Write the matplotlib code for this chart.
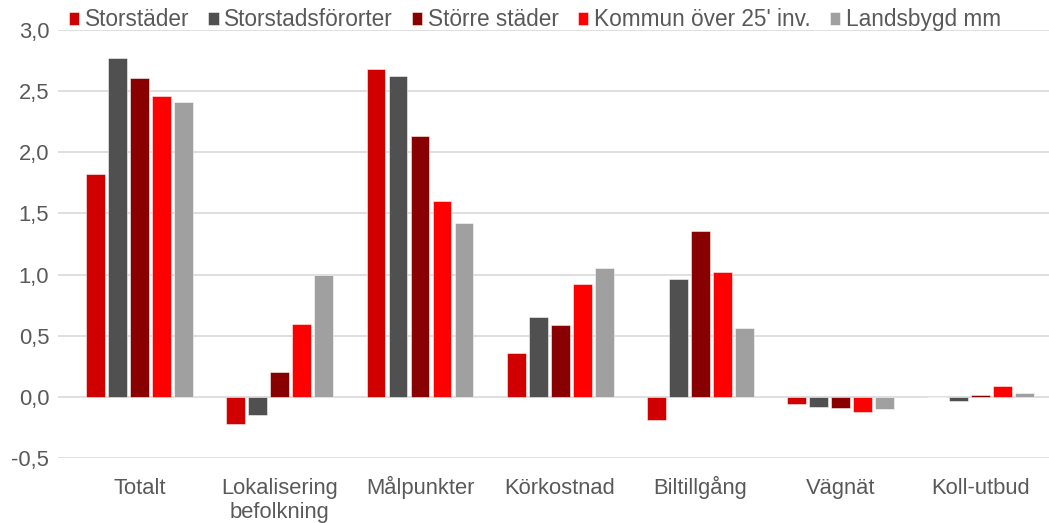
import matplotlib
matplotlib.use("Agg")
import matplotlib.pyplot as plt
import numpy as np
from matplotlib.ticker import FuncFormatter

plt.rcParams['font.family'] = ['Liberation Sans', 'DejaVu Sans']

categories = ["Totalt", "Lokalisering\nbefolkning", "Målpunkter", "Körkostnad",
              "Biltillgång", "Vägnät", "Koll-utbud"]
series_names = ["Storstäder", "Storstadsförorter", "Större städer",
                "Kommun över 25' inv.", "Landsbygd mm"]
storstader = [1.82, -0.22, 2.68, 0.36, -0.19, -0.06, 0.0]
forort = [2.77, -0.15, 2.62, 0.65, 0.96, -0.08, -0.03]
storre = [2.61, 0.20, 2.13, 0.59, 1.36, -0.09, 0.02]
kommun = [2.46, 0.60, 1.60, 0.92, 1.02, -0.12, 0.09]
landsbygd = [2.41, 1.00, 1.42, 1.05, 0.56, -0.10, 0.03]
colors = ["#D00000", "#505050", "#880000", "#FF0000", "#A0A0A0"]

data = [storstader, forort, storre, kommun, landsbygd]

fig = plt.figure(figsize=(10.49, 5.23), dpi=100)
ax = fig.add_axes([0.055, 0.124, 0.945, 0.819])

x = np.arange(len(categories))
step = 0.157
width = 0.135
for i, (vals, c, name) in enumerate(zip(data, colors, series_names)):
    ax.bar(x + (i - 2) * step, vals, width, color=c, label=name,
           edgecolor=(1, 1, 1, 0.6), linewidth=0.6, zorder=3)

ax.set_ylim(-0.5, 3.0)
ax.set_yticks(np.arange(-0.5, 3.01, 0.5))
ax.yaxis.set_major_formatter(FuncFormatter(lambda v, p: f"{v:.1f}".replace(".", ",")))
ax.set_xlim(-0.586, 6.49)
ax.set_xticks(x)
# pad single-line labels with an empty second line so all first lines share a baseline
ax.set_xticklabels([c if "\n" in c else c + "\n " for c in categories])
for lbl in ax.get_xticklabels():
    lbl.set_verticalalignment("baseline")
    lbl.set_linespacing(1.2)
ax.grid(axis="y", color="#d9d9d9", linewidth=1.2, zorder=0)
for s in ax.spines.values():
    s.set_visible(False)
ax.tick_params(axis="both", length=0, labelsize=15.8, colors="#595959")
ax.tick_params(axis="x", pad=43)
ax.tick_params(axis="y", pad=6)

leg = ax.legend(loc="lower left", bbox_to_anchor=(0.002, 0.975), ncol=5, frameon=False,
                fontsize=16.3, handlelength=0.45, handleheight=0.5, handletextpad=0.25,
                columnspacing=0.85, borderaxespad=0)
for t in leg.get_texts():
    t.set_color("#595959")

fig.savefig("out.png", dpi=100)
